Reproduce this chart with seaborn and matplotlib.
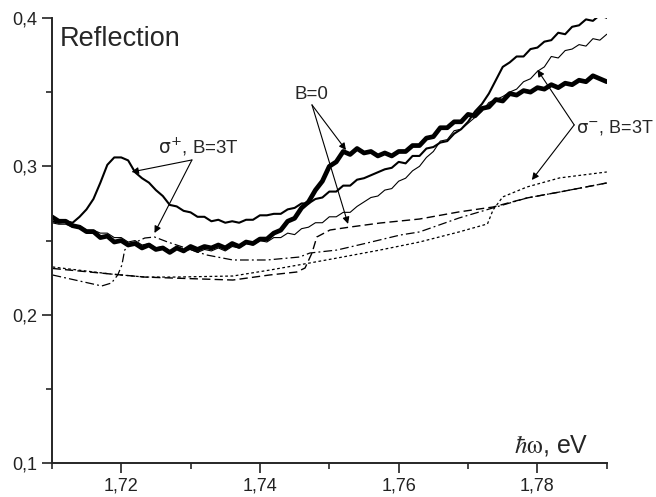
import numpy as np
import pandas as pd
import matplotlib
matplotlib.use("Agg")
import matplotlib.pyplot as plt
import seaborn as sns
from matplotlib.ticker import MultipleLocator, FuncFormatter

# photon energy grid for the solid (noisy) spectra, eV
energy = np.round(np.arange(1.710, 1.7905, 0.001), 3)

# B=0, thick solid
refl_b0 = [0.266, 0.263, 0.263, 0.260, 0.259, 0.256, 0.256, 0.252, 0.253, 0.249,
           0.250, 0.247, 0.248, 0.245, 0.247, 0.244, 0.245, 0.242, 0.245, 0.243,
           0.246, 0.244, 0.246, 0.245, 0.247, 0.245, 0.248, 0.246, 0.249, 0.248,
           0.251, 0.251, 0.255, 0.257, 0.263, 0.265, 0.272, 0.276, 0.284, 0.290,
           0.300, 0.303, 0.310, 0.308, 0.312, 0.309, 0.310, 0.307, 0.309, 0.307,
           0.310, 0.310, 0.314, 0.314, 0.319, 0.320, 0.326, 0.326, 0.330, 0.330,
           0.335, 0.334, 0.339, 0.340, 0.345, 0.344, 0.349, 0.348, 0.351, 0.350,
           0.353, 0.352, 0.355, 0.353, 0.356, 0.355, 0.358, 0.357, 0.361, 0.359,
           0.357]

# sigma+, B=3T, medium solid
refl_sp = [0.263, 0.262, 0.263, 0.262, 0.266, 0.271, 0.278, 0.289, 0.301, 0.306,
           0.306, 0.304, 0.296, 0.292, 0.289, 0.284, 0.280, 0.274, 0.273, 0.270,
           0.269, 0.266, 0.266, 0.263, 0.264, 0.262, 0.263, 0.262, 0.264, 0.264,
           0.267, 0.267, 0.268, 0.268, 0.271, 0.272, 0.275, 0.275, 0.278, 0.279,
           0.283, 0.283, 0.287, 0.287, 0.291, 0.292, 0.294, 0.296, 0.298, 0.299,
           0.303, 0.302, 0.307, 0.307, 0.312, 0.313, 0.316, 0.317, 0.322, 0.325,
           0.330, 0.337, 0.342, 0.349, 0.358, 0.367, 0.370, 0.374, 0.374, 0.379,
           0.380, 0.384, 0.385, 0.390, 0.389, 0.394, 0.395, 0.399, 0.398, 0.402,
           0.400]

# sigma-, B=3T, thin solid
refl_sm = [0.262, 0.261, 0.261, 0.259, 0.260, 0.257, 0.257, 0.255, 0.255, 0.252,
           0.252, 0.249, 0.250, 0.247, 0.248, 0.245, 0.246, 0.243, 0.245, 0.243,
           0.244, 0.242, 0.244, 0.243, 0.245, 0.243, 0.246, 0.245, 0.248, 0.247,
           0.250, 0.249, 0.252, 0.252, 0.255, 0.254, 0.258, 0.259, 0.262, 0.262,
           0.266, 0.266, 0.269, 0.269, 0.273, 0.276, 0.279, 0.280, 0.284, 0.285,
           0.290, 0.292, 0.297, 0.300, 0.306, 0.310, 0.317, 0.318, 0.324, 0.325,
           0.329, 0.333, 0.337, 0.343, 0.345, 0.347, 0.350, 0.352, 0.357, 0.359,
           0.364, 0.367, 0.374, 0.373, 0.378, 0.379, 0.382, 0.381, 0.386, 0.385,
           0.389]

# B=0, dashed
e_dash = [1.7101, 1.7186, 1.7234, 1.7277, 1.7361, 1.7414, 1.7453, 1.7465, 1.7475,
          1.7482, 1.7501, 1.7530, 1.7573, 1.7630, 1.7687, 1.7736, 1.7785, 1.7832, 1.7900]
r_dash = [0.2312, 0.2274, 0.2254, 0.2247, 0.2234, 0.2268, 0.2288, 0.2315, 0.2416,
          0.2524, 0.2571, 0.2591, 0.2618, 0.2645, 0.2693, 0.2726, 0.2787, 0.2827, 0.2888]

# sigma+, B=3T, dash-dot
e_dashdot = [1.7101, 1.7172, 1.7186, 1.7195, 1.7201, 1.7205, 1.7212, 1.7234, 1.7248,
             1.7267, 1.7323, 1.7361, 1.7410, 1.7457, 1.7472, 1.7511, 1.7554, 1.7602,
             1.7630, 1.7687, 1.7736, 1.7785, 1.7832, 1.7900]
r_dashdot = [0.2268, 0.2194, 0.2214, 0.2268, 0.2335, 0.2436, 0.2470, 0.2517, 0.2524,
             0.2490, 0.2403, 0.2369, 0.2369, 0.2389, 0.2416, 0.2436, 0.2483, 0.2537,
             0.2558, 0.2652, 0.2720, 0.2787, 0.2827, 0.2888]

# sigma-, B=3T, dotted
e_dot = [1.7101, 1.7186, 1.7234, 1.7277, 1.7361, 1.7414, 1.7472, 1.7511, 1.7573,
         1.7630, 1.7687, 1.7728, 1.7736, 1.7750, 1.7785, 1.7832, 1.7900]
r_dot = [0.2322, 0.2274, 0.2254, 0.2254, 0.2261, 0.2301, 0.2349, 0.2382, 0.2436,
         0.2490, 0.2558, 0.2612, 0.2706, 0.2794, 0.2861, 0.2922, 0.2962]

solid = pd.DataFrame({"E": energy, "b0": refl_b0, "sp": refl_sp, "sm": refl_sm})

sns.set_style("ticks")
plt.rcParams['font.family'] = ['Liberation Sans', 'DejaVu Sans']
plt.rcParams['mathtext.fontset'] = 'stix'

fig, ax = plt.subplots(figsize=(6.56, 4.97), dpi=100)
fig.subplots_adjust(left=0.079, right=0.925, bottom=0.068, top=0.964)

sns.lineplot(data=solid, x="E", y="sm", color="black", lw=0.8, ax=ax)
sns.lineplot(data=solid, x="E", y="sp", color="black", lw=1.5, ax=ax)
sns.lineplot(data=solid, x="E", y="b0", color="black", lw=3.4, ax=ax)
sns.lineplot(x=e_dash, y=r_dash, color="black", lw=1.0, linestyle=(0, (6, 3)), ax=ax)
sns.lineplot(x=e_dashdot, y=r_dashdot, color="black", lw=0.9, linestyle=(0, (7, 2.5, 1.5, 2.5)), ax=ax)
sns.lineplot(x=e_dot, y=r_dot, color="black", lw=0.9, linestyle=(0, (2.2, 2)), ax=ax)

ax.set_xlim(1.71, 1.79)
ax.set_ylim(0.1, 0.4)
ax.set_xlabel("")
ax.set_ylabel("")
ax.xaxis.set_major_locator(MultipleLocator(0.02))
ax.xaxis.set_minor_locator(MultipleLocator(0.01))
ax.yaxis.set_major_locator(MultipleLocator(0.1))
ax.yaxis.set_minor_locator(MultipleLocator(0.05))
ax.xaxis.set_major_formatter(FuncFormatter(lambda v, p: f"{v:.2f}".replace(".", ",")))
ax.yaxis.set_major_formatter(FuncFormatter(lambda v, p: f"{v:.1f}".replace(".", ",")))
ax.tick_params(which="major", direction="out", length=7, width=1.2, labelsize=13, colors="#222222")
ax.tick_params(which="minor", direction="out", length=4, width=1.2)
sns.despine(ax=ax)
for s in ["left", "bottom"]:
    ax.spines[s].set_linewidth(1.4)

ax.text(1.7112, 0.386, "Reflection", fontsize=19.5, ha="left", va="center")
ax.text(1.7874, 0.1074, r"$\hbar\mathrm{\omega}$, eV", fontsize=18, ha="right", va="baseline")

arrow = dict(arrowstyle="-|>", color="black", lw=0.8, mutation_scale=10, shrinkA=0, shrinkB=0)

# B=0 label
ax.text(1.7474, 0.3485, "B=0", fontsize=13.5, ha="center", va="center")
ax.annotate("", xy=(1.7524, 0.3110), xytext=(1.7475, 0.3414), arrowprops=arrow)
ax.annotate("", xy=(1.7527, 0.2612), xytext=(1.7475, 0.3414), arrowprops=arrow)

# sigma+ label
ax.text(1.7312, 0.3130, r"$\mathrm{\sigma}^{+}$, B=3T", fontsize=13.5, ha="center", va="center",
        math_fontfamily="dejavusans")
ax.annotate("", xy=(1.7215, 0.2962), xytext=(1.7302, 0.3043), arrowprops=arrow)
ax.annotate("", xy=(1.7248, 0.2551), xytext=(1.7302, 0.3043), arrowprops=arrow)

# sigma- label
ax.text(1.7967, 0.3260, r"$\mathrm{\sigma}^{-}$, B=3T", fontsize=13, ha="right", va="center",
        clip_on=False, math_fontfamily="dejavusans")
ax.annotate("", xy=(1.7800, 0.3650), xytext=(1.7853, 0.3279), arrowprops=arrow)
ax.annotate("", xy=(1.7792, 0.2908), xytext=(1.7853, 0.3279), arrowprops=arrow)

fig.savefig("out.png", dpi=100)
